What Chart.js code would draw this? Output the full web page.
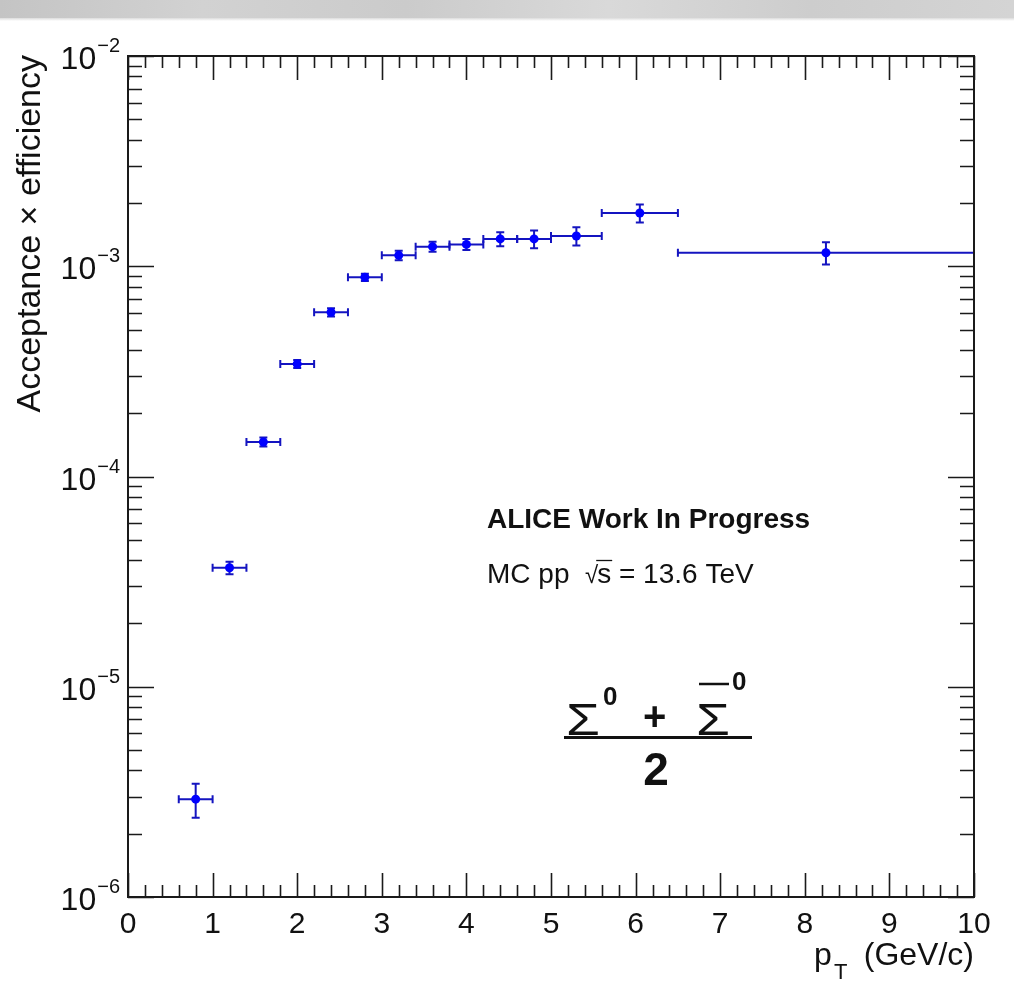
<!DOCTYPE html>
<html>
<head>
<meta charset="utf-8">
<script src="https://cdn.jsdelivr.net/npm/chart.js@4.4.1/dist/chart.umd.min.js"></script>
<style>
html,body{margin:0;padding:0;background:#fff;}
#wrap{position:absolute;left:0;top:0;width:1014px;height:999px;}
#band{position:absolute;left:0;top:0;width:1014px;height:18px;
 background:linear-gradient(to right,#c4c4c4 0%,#d2d2d2 20%,#cbcbcb 40%,#d9d9d9 60%,#cdcdcd 80%,#d4d4d4 100%);}
#bandEdge{position:absolute;left:0;top:18px;width:1014px;height:3px;background:linear-gradient(#dcdcdc,#ffffff);}
</style>
</head>
<body>
<div id="wrap"><canvas id="c" width="1014" height="999"></canvas></div>
<div id="band"></div><div id="bandEdge"></div>
<script>
// ---- data ----
const binLow  = [0.6, 1.0, 1.4, 1.8, 2.2, 2.6, 3.0, 3.4, 3.8, 4.2, 4.6, 5.0, 5.6, 6.5];
const binHigh = [1.0, 1.4, 1.8, 2.2, 2.6, 3.0, 3.4, 3.8, 4.2, 4.6, 5.0, 5.6, 6.5, 10.0];
const ptX     = [0.8, 1.2, 1.6, 2.0, 2.4, 2.8, 3.2, 3.6, 4.0, 4.4, 4.8, 5.3, 6.05, 8.25];
const eff     = [2.92e-6, 3.68e-5, 1.46e-4, 3.43e-4, 6.04e-4, 8.86e-4, 1.127e-3, 1.239e-3, 1.27e-3, 1.349e-3, 1.349e-3, 1.393e-3, 1.792e-3, 1.16e-3];
const effErr  = [0.54e-6, 2.5e-6, 7.2e-6, 1.5e-5, 2.65e-5, 3.4e-5, 5.8e-5, 6.8e-5, 7.6e-5, 1.04e-4, 1.3e-4, 1.38e-4, 1.77e-4, 1.4e-4];
const xTickLabels = ['0','1','2','3','4','5','6','7','8','9','10'];
const yTickExponents = [-6, -5, -4, -3, -2];
const yTitle = 'Acceptance \u00d7 efficiency';
const xTitleMain = 'p', xTitleSub = 'T', xTitleRest = '(GeV/c)';
const labelLine1 = 'ALICE Work In Progress';
const labelLine2a = 'MC pp  ', labelLine2root = '\u221a', labelLine2s = 's', labelLine2b = ' = 13.6 TeV';

const SANS = '"Liberation Sans", Arial, Helvetica, sans-serif';
const markerColor = '#0000ff';
const errColor = '#1414c0';

function drawSigma(ctx, cx, baseline) {
  ctx.save();
  ctx.translate(cx, baseline);
  ctx.scale(1.22, 1);
  ctx.font = '45px ' + SANS;
  ctx.textAlign = 'center';
  ctx.fillText('\u03a3', 0, 0);
  ctx.restore();
}

const rootPlugin = {
  id: 'rootPlugin',
  beforeDatasetsDraw(chart) {
    const ctx = chart.ctx, xs = chart.scales.x, ys = chart.scales.y;
    ctx.save();
    ctx.strokeStyle = errColor;
    ctx.lineWidth = 2;
    const cap = 4;
    for (let i = 0; i < ptX.length; i++) {
      const px = xs.getPixelForValue(ptX[i]);
      const py = ys.getPixelForValue(eff[i]);
      const xl = xs.getPixelForValue(binLow[i]);
      const xh = xs.getPixelForValue(binHigh[i]);
      const yt = ys.getPixelForValue(eff[i] + effErr[i]);
      const yb = ys.getPixelForValue(eff[i] - effErr[i]);
      ctx.beginPath();
      ctx.moveTo(xl, py); ctx.lineTo(xh, py);
      ctx.moveTo(xl, py - cap); ctx.lineTo(xl, py + cap);
      ctx.moveTo(xh, py - cap); ctx.lineTo(xh, py + cap);
      ctx.moveTo(px, yt); ctx.lineTo(px, yb);
      ctx.moveTo(px - cap, yt); ctx.lineTo(px + cap, yt);
      ctx.moveTo(px - cap, yb); ctx.lineTo(px + cap, yb);
      ctx.stroke();
    }
    ctx.restore();
  },
  afterDatasetsDraw(chart) {
    const ctx = chart.ctx, xs = chart.scales.x, ys = chart.scales.y;
    const a = chart.chartArea;
    ctx.save();
    // frame
    ctx.strokeStyle = '#1a1a1a';
    ctx.lineWidth = 2;
    ctx.strokeRect(a.left, a.top, a.right - a.left, a.bottom - a.top);
    // x ticks
    ctx.lineWidth = 1.6;
    ctx.beginPath();
    for (let k = 0; k <= 50; k++) {
      const v = k / 5;
      const x = Math.round(xs.getPixelForValue(v)) + 0.5;
      const len = (k % 5 === 0) ? 24 : 12;
      ctx.moveTo(x, a.bottom); ctx.lineTo(x, a.bottom - len);
      ctx.moveTo(x, a.top); ctx.lineTo(x, a.top + len);
    }
    // y ticks
    for (let e = -6; e <= -2; e++) {
      for (let m = 1; m <= 9; m++) {
        if (e === -2 && m > 1) break;
        const v = m * Math.pow(10, e);
        const y = Math.round(ys.getPixelForValue(v)) + 0.5;
        const len = (m === 1) ? 26 : 14;
        ctx.moveTo(a.left, y); ctx.lineTo(a.left + len, y);
        ctx.moveTo(a.right, y); ctx.lineTo(a.right - len, y);
      }
    }
    ctx.stroke();

    ctx.fillStyle = '#111';
    // x tick labels
    ctx.font = '30px ' + SANS;
    ctx.textAlign = 'center';
    ctx.textBaseline = 'alphabetic';
    xTickLabels.forEach((t, i) => {
      ctx.fillText(t, xs.getPixelForValue(i), a.bottom + 36);
    });
    // y tick labels: 10^exp
    yTickExponents.forEach(ex => {
      const y = ys.getPixelForValue(Math.pow(10, ex));
      const sup = '\u2212' + Math.abs(ex);
      ctx.font = '20px ' + SANS;
      const ws = ctx.measureText(sup).width;
      ctx.textAlign = 'right';
      const right = a.left - 8;
      ctx.fillText(sup, right, y - 4);
      ctx.font = '32px ' + SANS;
      ctx.fillText('10', right - ws - 1, y + 13);
    });
    // y title
    ctx.save();
    ctx.translate(40, a.top - 1);
    ctx.rotate(-Math.PI / 2);
    ctx.font = '34px ' + SANS;
    ctx.textAlign = 'right';
    ctx.fillText(yTitle, 0, 0);
    ctx.restore();
    // x title
    ctx.textAlign = 'left';
    ctx.font = '32px ' + SANS;
    ctx.fillText(xTitleMain, 814, 965);
    ctx.font = '22px ' + SANS;
    ctx.fillText(xTitleSub, 834, 979);
    ctx.font = '32px ' + SANS;
    ctx.textAlign = 'right';
    ctx.fillText(xTitleRest, a.right, 965);

    // ALICE label
    ctx.textAlign = 'left';
    ctx.font = 'bold 28px ' + SANS;
    ctx.fillText(labelLine1, 487, 528);
    ctx.font = '28px ' + SANS;
    let x = 487;
    ctx.fillText(labelLine2a, x, 583); x += ctx.measureText(labelLine2a).width;
    ctx.font = '24px ' + SANS;
    ctx.fillText(labelLine2root, x, 583); x += ctx.measureText(labelLine2root).width - 1;
    ctx.font = '28px ' + SANS;
    const ws = ctx.measureText(labelLine2s).width;
    ctx.fillText(labelLine2s, x, 583);
    ctx.lineWidth = 1.3;
    ctx.strokeStyle = '#111';
    ctx.beginPath(); ctx.moveTo(x - 1, 560.5); ctx.lineTo(x + ws + 1, 560.5); ctx.stroke();
    x += ws;
    ctx.fillText(labelLine2b, x, 583);

    // fraction (Sigma0 + anti-Sigma0)/2
    drawSigma(ctx, 583, 735);
    drawSigma(ctx, 713, 735);
    ctx.textAlign = 'left';
    ctx.font = 'bold 26px ' + SANS;
    ctx.fillText('0', 603, 705);
    ctx.fillText('0', 732, 690);
    ctx.font = 'bold 40px ' + SANS;
    ctx.fillText('+', 643, 730);
    ctx.lineWidth = 2.5;
    ctx.beginPath(); ctx.moveTo(699, 684); ctx.lineTo(729, 684); ctx.stroke();
    ctx.lineWidth = 3;
    ctx.beginPath(); ctx.moveTo(564, 737.5); ctx.lineTo(752, 737.5); ctx.stroke();
    ctx.font = 'bold 46px ' + SANS;
    ctx.textAlign = 'center';
    ctx.fillText('2', 656, 785);
    ctx.restore();
  }
};

new Chart(document.getElementById('c'), {
  type: 'scatter',
  data: {
    datasets: [{
      data: ptX.map((x, i) => ({ x: x, y: eff[i] })),
      pointRadius: 4.5,
      pointHoverRadius: 4.5,
      backgroundColor: markerColor,
      borderColor: markerColor,
      borderWidth: 0,
      showLine: false
    }]
  },
  options: {
    responsive: false,
    animation: false,
    devicePixelRatio: 1,
    layout: { padding: { left: 128, top: 56, right: 40, bottom: 102 } },
    plugins: { legend: { display: false }, tooltip: { enabled: false } },
    events: [],
    scales: {
      x: { type: 'linear', min: 0, max: 10, display: false },
      y: { type: 'logarithmic', min: 1e-6, max: 1e-2, display: false }
    }
  },
  plugins: [rootPlugin]
});
</script>
</body>
</html>
